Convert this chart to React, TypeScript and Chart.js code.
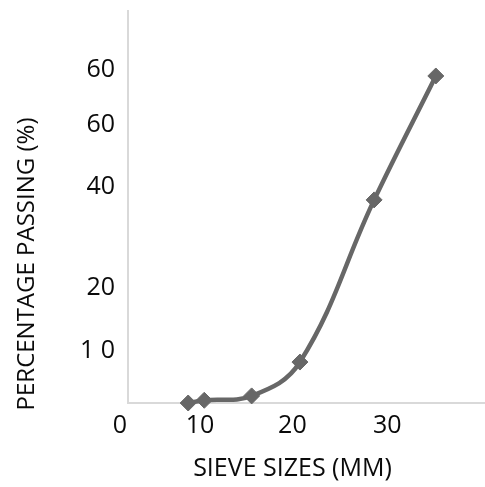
import React, { useEffect, useRef } from "react";
import { Chart, registerables } from "chart.js";

Chart.register(...registerables);

// Data
const sieveSizes = [8.1, 9.9, 15.2, 20.6, 28.9, 35.8];
const percentPassing = [0, 0.5, 1.3, 7.5, 37.2, 59.9];

// Axis tick labels (as printed in the reference) and where they sit on each axis
const xTickValues = [0.47, 9.43, 19.76, 30.37];
const xTickLabels = ["0", "10", "20", "30"];
const yTickValues = [61, 51, 39.5, 21, 9.5];
const yTickLabels = ["60", "60", "40", "20", "1 0"];

const xTitle = "SIEVE SIZES (MM)";
const yTitle = "PERCENTAGE PASSING (%)";

const X_MIN = 1.37;
const X_MAX = 41.3;
const Y_MIN = 0;
const Y_MAX = 71.8;

const FONT_FAMILY = '"Open Sans", sans-serif';
const TEXT_COLOR = "#0a0a0a";
const LINE_COLOR = "#676767";
const AXIS_COLOR = "#d9d9d9";

const axisTitlesPlugin = {
  id: "axisTitles",
  afterDraw(chart: any) {
    const { ctx, chartArea } = chart;
    ctx.save();
    ctx.fillStyle = TEXT_COLOR;
    ctx.textAlign = "center";
    ctx.textBaseline = "middle";
    ctx.font = `25px ${FONT_FAMILY}`;
    ctx.fillText(xTitle, chartArea.left + 164.5, chartArea.bottom + 66);
    ctx.font = `24px ${FONT_FAMILY}`;
    ctx.translate(chartArea.left - 101, chartArea.bottom - 139);
    ctx.rotate(-Math.PI / 2);
    ctx.fillText(yTitle, 0, 0);
    ctx.restore();
  },
};

export default function App() {
  const canvasRef = useRef<HTMLCanvasElement | null>(null);

  useEffect(() => {
    if (!canvasRef.current) return;
    const chart = new Chart(canvasRef.current, {
      type: "line",
      data: {
        datasets: [
          {
            data: sieveSizes.map((x, i) => ({ x, y: percentPassing[i] })),
            borderColor: LINE_COLOR,
            backgroundColor: LINE_COLOR,
            borderWidth: 4.5,
            tension: 0.4,
            pointStyle: "rectRot",
            pointRadius: 8,
            pointBorderWidth: 1,
            pointBackgroundColor: LINE_COLOR,
            pointBorderColor: LINE_COLOR,
            clip: false,
          },
        ],
      },
      options: {
        responsive: false,
        animation: false,
        layout: { autoPadding: false, padding: { top: 11, left: 0, right: 0, bottom: 0 } },
        plugins: {
          legend: { display: false },
          tooltip: { enabled: false },
          title: { display: false },
        },
        scales: {
          x: {
            type: "linear",
            min: X_MIN,
            max: X_MAX,
            grid: { display: false, drawTicks: false },
            border: { display: true, color: AXIS_COLOR, width: 2 },
            afterBuildTicks: (scale: any) => {
              scale.ticks = xTickValues.map((v) => ({ value: v }));
            },
            afterFit: (scale: any) => {
              scale.height = 84;
              scale.paddingLeft = 0;
              scale.paddingRight = 0;
            },
            ticks: {
              autoSkip: false,
              maxRotation: 0,
              minRotation: 0,
              padding: 8,
              color: TEXT_COLOR,
              font: { family: FONT_FAMILY, size: 25 },
              callback: (_v: any, i: number) => xTickLabels[i],
            },
          },
          y: {
            type: "linear",
            min: Y_MIN,
            max: Y_MAX,
            grid: { display: false, drawTicks: false },
            border: { display: true, color: AXIS_COLOR, width: 2 },
            afterBuildTicks: (scale: any) => {
              scale.ticks = yTickValues.map((v) => ({ value: v }));
            },
            afterFit: (scale: any) => {
              scale.width = 128;
              scale.paddingTop = 0;
              scale.paddingBottom = 0;
            },
            ticks: {
              autoSkip: false,
              padding: 13,
              color: TEXT_COLOR,
              font: { family: FONT_FAMILY, size: 25 },
              callback: (_v: any, i: number) => yTickLabels[i],
            },
          },
        },
      },
      plugins: [axisTitlesPlugin],
    });
    return () => chart.destroy();
  }, []);

  return (
    <div style={{ position: "fixed", left: 0, top: 0, width: 485, height: 487, background: "#ffffff" }}>
      <canvas ref={canvasRef} width={485} height={487} style={{ display: "block" }} />
    </div>
  );
}
